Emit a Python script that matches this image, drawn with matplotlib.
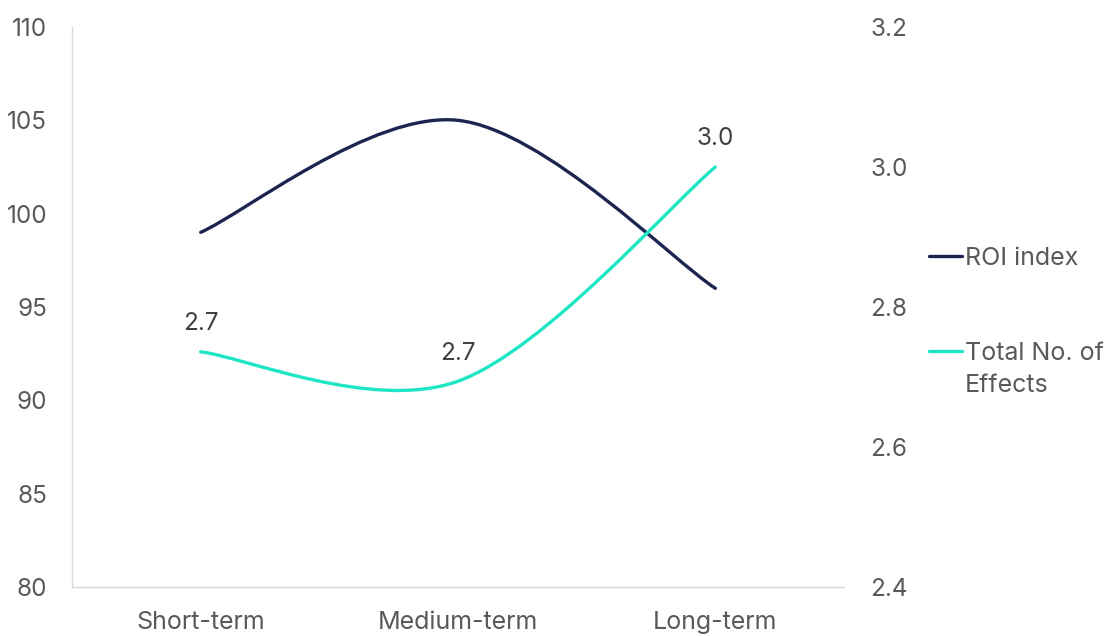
import matplotlib
matplotlib.use("Agg")
import matplotlib.pyplot as plt
from matplotlib.path import Path
from matplotlib.patches import PathPatch
from matplotlib.lines import Line2D

plt.rcParams['font.family'] = ['Inter', 'DejaVu Sans']

categories = ["Short-term", "Medium-term", "Long-term"]
roi_index = [99, 105, 96]
total_effects = [2.736, 2.694, 3.0]
effects_labels = ["2.7", "2.7", "3.0"]

left_ticks = [80, 85, 90, 95, 100, 105, 110]
right_ticks = [2.4, 2.6, 2.8, 3.0, 3.2]

NAVY = "#1c2551"
TEAL = "#1ee6c5"
TICK_COLOR = "#595959"
LABEL_COLOR = "#404040"
SPINE_COLOR = "#d9d9d9"

W, H = 1107, 636
fig = plt.figure(figsize=(W / 100, H / 100), dpi=100)
ax = fig.add_axes([72 / W, 1 - 587 / H, 772 / W, 560 / H])
ax2 = ax.twinx()


def smooth_path(xs, ys):
    """Cubic Bezier through the points, tangents from neighbouring points."""
    pts = list(zip(xs, ys))
    n = len(pts)
    verts = [pts[0]]
    codes = [Path.MOVETO]
    for i in range(n - 1):
        p0 = pts[i - 1] if i > 0 else pts[i]
        p1 = pts[i]
        p2 = pts[i + 1]
        p3 = pts[i + 2] if i + 2 < n else pts[i + 1]
        c1 = (p1[0] + (p2[0] - p0[0]) / 6, p1[1] + (p2[1] - p0[1]) / 6)
        c2 = (p2[0] - (p3[0] - p1[0]) / 6, p2[1] - (p3[1] - p1[1]) / 6)
        verts += [c1, c2, p2]
        codes += [Path.CURVE4] * 3
    return Path(verts, codes)


x = list(range(len(categories)))

ax.add_patch(PathPatch(smooth_path(x, roi_index), facecolor="none",
                       edgecolor=NAVY, lw=2.4, capstyle="round", zorder=3))
ax2.add_patch(PathPatch(smooth_path(x, total_effects), facecolor="none",
                        edgecolor=TEAL, lw=2.4, capstyle="round", zorder=3))

for xi, yi, lab in zip(x, total_effects, effects_labels):
    ax2.annotate(lab, (xi, yi), xytext=(0, 12), textcoords="offset points",
                 ha="center", va="bottom", fontsize=17.5, color=LABEL_COLOR)

ax.set_xlim(-0.5, 2.5)
ax.set_ylim(80, 110)
ax2.set_ylim(2.4, 3.2)
ax.set_xticks(x)
ax.set_xticklabels(categories)
ax.set_yticks(left_ticks)
ax2.set_yticks(right_ticks)
ax2.set_yticklabels([f"{v:.1f}" for v in right_ticks])

ax.tick_params(axis="y", length=0, pad=18, labelsize=17.5, labelcolor=TICK_COLOR)
ax.tick_params(axis="x", length=0, pad=17, labelsize=18, labelcolor=TICK_COLOR)
ax2.tick_params(axis="y", length=0, pad=19, labelsize=17.5, labelcolor=TICK_COLOR)

for a in (ax, ax2):
    for s in ("top", "right"):
        a.spines[s].set_visible(False)
ax2.spines["left"].set_visible(False)
ax2.spines["bottom"].set_visible(False)
ax.spines["left"].set_color(SPINE_COLOR)
ax.spines["bottom"].set_color(SPINE_COLOR)
ax.spines["left"].set_linewidth(1.0)
ax.spines["bottom"].set_linewidth(1.0)


# Legend on the right, drawn in figure pixel coordinates
def fx(px):
    return px / W


def fy(py):
    return 1 - py / H


legend_items = [
    (NAVY, ["ROI index"], 256),
    (TEAL, ["Total No. of", "Effects"], 351),
]
for color, lines, line_y in legend_items:
    fig.add_artist(Line2D([fx(929), fx(962)], [fy(line_y), fy(line_y)],
                          transform=fig.transFigure, color=color, lw=2.4,
                          solid_capstyle="round"))
    for k, text in enumerate(lines):
        fig.text(fx(965), fy(line_y + 32 * k), text, ha="left",
                 va="center_baseline", fontsize=18, color=TICK_COLOR,
                 transform=fig.transFigure)

fig.savefig("out.png", dpi=100)
